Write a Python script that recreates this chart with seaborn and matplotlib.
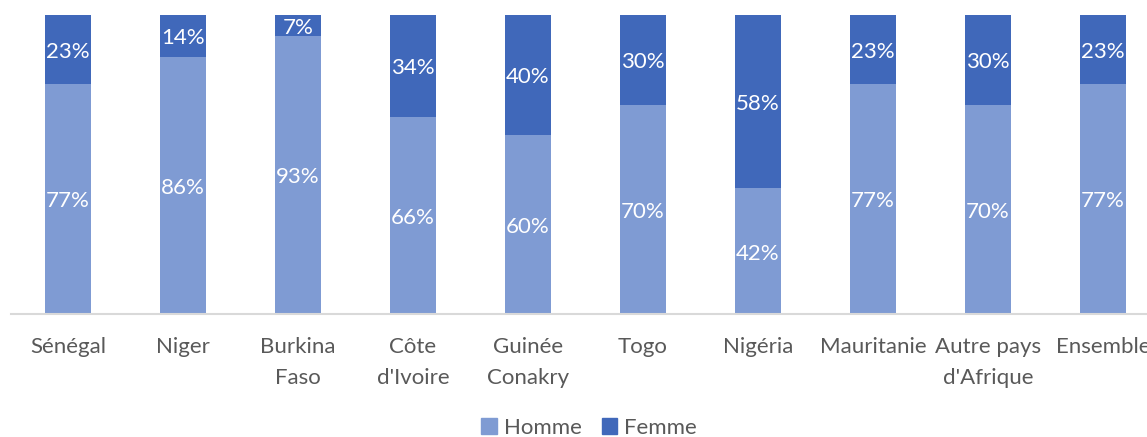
import matplotlib
matplotlib.use("Agg")
import matplotlib.pyplot as plt
from matplotlib.patches import Patch
import seaborn as sns
import pandas as pd

# data
pays = ["Sénégal", "Niger", "Burkina\nFaso", "Côte\nd'Ivoire", "Guinée\nConakry",
        "Togo", "Nigéria", "Mauritanie", "Autre pays\nd'Afrique", "Ensemble"]
homme = [77, 86, 93, 66, 60, 70, 42, 77, 70, 77]
femme = [23, 14, 7, 34, 40, 30, 58, 23, 30, 23]

col_homme = "#7F9BD3"
col_femme = "#4068BA"
txt_col = "#595959"

sns.set_theme(style="white")
plt.rcParams['font.family'] = ['Lato', 'DejaVu Sans']

df = pd.DataFrame({"pays": pays, "homme": homme, "femme": femme})
df["total"] = df["homme"] + df["femme"]

fig = plt.figure(figsize=(11.47, 4.37), dpi=100)
ax = fig.add_axes([10.5 / 1147, 123 / 437, 1150 / 1147, 299 / 437])

# femme stacked on homme: draw full bar first, then homme over it
sns.barplot(data=df, x="pays", y="total", color=col_femme, width=0.4,
            linewidth=0, saturation=1, ax=ax)
sns.barplot(data=df, x="pays", y="homme", color=col_homme, width=0.4,
            linewidth=0, saturation=1, ax=ax)

# labels sit a touch below the segment centre, like in the original
off = 0.8
for i, (h, f) in enumerate(zip(homme, femme)):
    ax.text(i, h / 2 - off, f"{h}%", ha="center", va="center", color="white", fontsize=16)
    ax.text(i, h + f / 2 - off, f"{f}%", ha="center", va="center", color="white", fontsize=16)

ax.set_ylim(0, 100)
ax.set_xlim(-0.5, 9.5)
ax.set_xlabel("")
ax.set_ylabel("")
ax.set_yticks([])
for s in ["top", "left", "right"]:
    ax.spines[s].set_visible(False)
ax.spines["bottom"].set_color("#D9D9D9")
ax.spines["bottom"].set_linewidth(1.5)
ax.tick_params(axis="x", length=0, pad=16.5, labelsize=16, labelcolor=txt_col)
for lbl in ax.get_xticklabels():
    lbl.set_linespacing(1.7)

handles = [Patch(color=col_homme, label="Homme"), Patch(color=col_femme, label="Femme")]
fig.legend(handles=handles, loc="center", bbox_to_anchor=(589 / 1147, 9 / 437),
           ncol=2, frameon=False, fontsize=16, labelcolor=txt_col,
           handlelength=0.7, handleheight=0.7, handletextpad=0.3, columnspacing=0.9,
           borderpad=0.2)

fig.savefig("out.png", dpi=100)
